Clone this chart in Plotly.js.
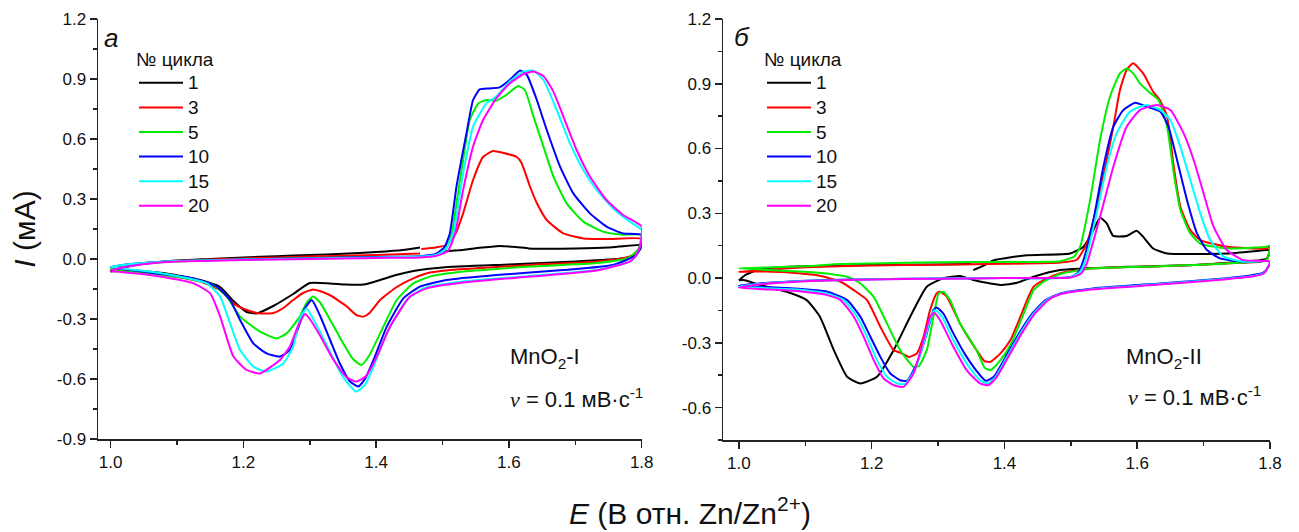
<!DOCTYPE html>
<html><head><meta charset="utf-8">
<script src="https://cdn.plot.ly/plotly-3.0.1.min.js"></script>
<style>html,body{margin:0;padding:0;background:#fff}#c{width:1299px;height:532px}</style>
</head><body><div id="c"></div>
<script>
// ---- data: [E (V vs Zn/Zn2+), I (mA)]; each loop = anodic sweep then cathodic sweep
const cycles = ['1','3','5','10','15','20'];
const colors = ['#000000','#ff0000','#00ee00','#0000ff','#00ffff','#ff00ff'];

// Panel а : MnO2-I
const A1 = [[1.0,-0.062],[1.03,-0.035],[1.06,-0.02],[1.1,-0.008],[1.15,0.0],[1.2,0.008],[1.25,0.014],[1.3,0.02],[1.35,0.026],[1.4,0.035],[1.44,0.045],[1.466,0.058],[null,null],
 [1.496,0.037],[1.53,0.045],[1.56,0.057],[1.586,0.065],[1.61,0.06],[1.63,0.053],[1.66,0.051],[1.7,0.052],[1.75,0.057],[1.8,0.07],
 [1.8,0.06],[1.79,0.02],[1.77,0.003],[1.7,-0.012],[1.6,-0.027],[1.5,-0.042],[1.456,-0.06],[1.43,-0.08],[1.406,-0.105],[1.381,-0.128],[1.355,-0.128],[1.33,-0.122],[1.3,-0.12],[1.275,-0.175],[1.245,-0.235],[1.22,-0.272],[1.205,-0.265],[1.185,-0.21],[1.165,-0.14],[1.135,-0.105],[1.084,-0.072],[1.034,-0.058],[1.0,-0.063]];
const A3 = [[1.0,-0.055],[1.03,-0.03],[1.06,-0.018],[1.1,-0.01],[1.2,0.003],[1.3,0.012],[1.4,0.02],[1.466,0.027],[null,null],
 [1.468,0.05],[1.49,0.058],[1.506,0.07],[1.52,0.13],[1.531,0.228],[1.546,0.395],[1.561,0.51],[1.576,0.54],[1.592,0.53],[1.612,0.51],[1.619,0.48],[1.632,0.36],[1.642,0.28],[1.657,0.195],[1.682,0.128],[1.712,0.103],[1.75,0.1],[1.8,0.1],
 [1.795,0.04],[1.78,0.01],[1.732,-0.013],[1.632,-0.03],[1.531,-0.05],[1.481,-0.068],[1.456,-0.097],[1.431,-0.14],[1.406,-0.205],[1.39,-0.27],[1.381,-0.288],[1.37,-0.28],[1.355,-0.235],[1.33,-0.18],[1.315,-0.16],[1.305,-0.152],[1.29,-0.17],[1.275,-0.205],[1.26,-0.245],[1.245,-0.27],[1.225,-0.272],[1.205,-0.255],[1.185,-0.222],[1.165,-0.155],[1.135,-0.113],[1.084,-0.08],[1.04,-0.065],[1.0,-0.055]];
const A5 = [[1.0,-0.052],[1.03,-0.03],[1.06,-0.02],[1.1,-0.012],[1.2,-0.002],[1.3,0.005],[1.4,0.01],[1.466,0.012],[1.49,0.02],[1.505,0.05],[1.514,0.128],[1.522,0.3],[1.531,0.495],[1.541,0.695],[1.554,0.778],[1.566,0.795],[1.581,0.792],[1.596,0.82],[1.614,0.865],[1.624,0.845],[1.637,0.712],[1.652,0.562],[1.667,0.412],[1.687,0.278],[1.712,0.187],[1.742,0.137],[1.77,0.122],[1.8,0.12],
 [1.795,0.05],[1.78,0.005],[1.732,-0.02],[1.632,-0.038],[1.531,-0.063],[1.481,-0.088],[1.456,-0.122],[1.431,-0.205],[1.406,-0.372],[1.39,-0.48],[1.378,-0.53],[1.365,-0.5],[1.35,-0.42],[1.33,-0.3],[1.315,-0.215],[1.305,-0.188],[1.295,-0.22],[1.285,-0.288],[1.265,-0.372],[1.25,-0.397],[1.225,-0.363],[1.195,-0.288],[1.175,-0.188],[1.155,-0.13],[1.115,-0.097],[1.059,-0.072],[1.0,-0.052]];
const A10 = [[1.0,-0.04],[1.03,-0.025],[1.06,-0.017],[1.1,-0.01],[1.2,-0.002],[1.3,0.004],[1.4,0.01],[1.466,0.014],[1.49,0.025],[1.503,0.06],[1.511,0.128],[1.521,0.362],[1.536,0.628],[1.546,0.795],[1.556,0.848],[1.571,0.853],[1.586,0.858],[1.601,0.895],[1.617,0.942],[1.627,0.92],[1.642,0.795],[1.657,0.645],[1.677,0.462],[1.697,0.328],[1.722,0.228],[1.747,0.162],[1.772,0.128],[1.8,0.12],
 [1.797,0.05],[1.792,0.02],[1.757,-0.03],[1.682,-0.055],[1.581,-0.08],[1.506,-0.105],[1.466,-0.138],[1.441,-0.197],[1.416,-0.338],[1.396,-0.505],[1.383,-0.6],[1.373,-0.638],[1.36,-0.61],[1.345,-0.52],[1.33,-0.4],[1.315,-0.28],[1.303,-0.205],[1.292,-0.25],[1.285,-0.322],[1.27,-0.455],[1.255,-0.488],[1.235,-0.472],[1.215,-0.422],[1.195,-0.305],[1.18,-0.205],[1.16,-0.138],[1.125,-0.097],[1.059,-0.068],[1.0,-0.04]];
const A15 = [[1.0,-0.04],[1.03,-0.025],[1.06,-0.017],[1.1,-0.01],[1.2,-0.003],[1.3,0.003],[1.4,0.008],[1.466,0.012],[1.49,0.02],[1.505,0.05],[1.516,0.128],[1.531,0.428],[1.546,0.662],[1.566,0.778],[1.581,0.812],[1.601,0.887],[1.622,0.937],[1.637,0.942],[1.652,0.895],[1.672,0.745],[1.692,0.578],[1.712,0.445],[1.732,0.345],[1.757,0.253],[1.782,0.187],[1.8,0.145],
 [1.797,0.06],[1.79,0.01],[1.782,-0.013],[1.732,-0.055],[1.632,-0.085],[1.531,-0.113],[1.471,-0.147],[1.446,-0.205],[1.416,-0.372],[1.396,-0.538],[1.383,-0.63],[1.37,-0.663],[1.35,-0.59],[1.33,-0.46],[1.31,-0.33],[1.295,-0.247],[1.285,-0.3],[1.275,-0.438],[1.26,-0.522],[1.235,-0.563],[1.215,-0.538],[1.195,-0.455],[1.18,-0.322],[1.165,-0.188],[1.145,-0.122],[1.11,-0.092],[1.059,-0.063],[1.0,-0.04]];
const A20 = [[1.0,-0.058],[1.03,-0.035],[1.06,-0.022],[1.1,-0.013],[1.2,-0.005],[1.3,0.0],[1.4,0.005],[1.466,0.008],[1.49,0.015],[1.508,0.04],[1.519,0.128],[1.531,0.345],[1.546,0.562],[1.561,0.695],[1.581,0.803],[1.601,0.878],[1.622,0.925],[1.637,0.937],[1.652,0.915],[1.667,0.837],[1.682,0.712],[1.702,0.545],[1.722,0.412],[1.747,0.295],[1.772,0.22],[1.8,0.162],
 [1.797,0.06],[1.79,0.01],[1.782,-0.013],[1.732,-0.058],[1.632,-0.088],[1.531,-0.118],[1.476,-0.147],[1.451,-0.188],[1.421,-0.338],[1.401,-0.488],[1.385,-0.585],[1.37,-0.613],[1.355,-0.59],[1.335,-0.5],[1.315,-0.38],[1.3,-0.3],[1.293,-0.275],[1.283,-0.33],[1.27,-0.438],[1.255,-0.505],[1.225,-0.572],[1.205,-0.555],[1.185,-0.488],[1.165,-0.288],[1.15,-0.172],[1.125,-0.122],[1.059,-0.08],[1.0,-0.058]];

// Panel б : MnO2-II
const B1 = [[1.0,-0.01],[1.01,0.015],[1.03,0.04],[1.06,0.05],[1.1,0.055],[1.2,0.06],[1.3,0.063],[1.35,0.065],[null,null],
 [1.353,0.037],[1.37,0.06],[1.384,0.083],[1.434,0.106],[1.499,0.114],[1.519,0.145],[1.534,0.222],[1.544,0.28],[1.554,0.253],[1.564,0.195],[1.584,0.195],[1.599,0.219],[1.609,0.191],[1.624,0.137],[1.645,0.114],[1.735,0.114],[1.795,0.13],[1.8,0.13],
 [1.795,0.09],[1.785,0.083],[1.685,0.06],[1.584,0.052],[1.484,0.037],[1.444,0.006],[1.419,-0.022],[1.394,-0.032],[1.353,-0.009],[1.333,0.01],[1.308,-0.001],[1.283,-0.04],[1.258,-0.179],[1.233,-0.334],[1.208,-0.457],[1.183,-0.488],[1.163,-0.457],[1.143,-0.334],[1.122,-0.179],[1.102,-0.102],[1.072,-0.063],[1.032,-0.032],[1.007,-0.009],[1.0,-0.01]];
const B3 = [[1.0,0.03],[1.05,0.04],[1.1,0.05],[1.2,0.058],[1.3,0.062],[1.4,0.066],[1.484,0.072],[1.509,0.085],[1.524,0.16],[1.539,0.33],[1.554,0.547],[1.564,0.701],[1.574,0.871],[1.584,0.964],[1.594,0.995],[1.609,0.948],[1.624,0.863],[1.634,0.825],[1.645,0.748],[1.655,0.516],[1.665,0.33],[1.68,0.222],[1.695,0.176],[1.735,0.145],[1.795,0.137],[1.8,0.145],
 [1.795,0.083],[1.735,0.068],[1.634,0.055],[1.534,0.045],[1.484,0.022],[1.459,-0.009],[1.444,-0.04],[1.434,-0.102],[1.424,-0.179],[1.409,-0.287],[1.394,-0.349],[1.379,-0.388],[1.37,-0.385],[1.358,-0.334],[1.333,-0.21],[1.313,-0.086],[1.303,-0.063],[1.298,-0.07],[1.288,-0.148],[1.278,-0.272],[1.268,-0.349],[1.256,-0.365],[1.243,-0.345],[1.233,-0.334],[1.213,-0.226],[1.193,-0.102],[1.173,-0.056],[1.153,-0.017],[1.12,0.012],[1.08,0.025],[1.04,0.03],[1.0,0.03]];
const B5 = [[1.0,0.045],[1.05,0.05],[1.1,0.055],[1.153,0.065],[1.2,0.068],[1.3,0.073],[1.4,0.075],[1.484,0.078],[1.505,0.1],[1.514,0.145],[1.529,0.361],[1.544,0.64],[1.559,0.84],[1.574,0.948],[1.584,0.971],[1.594,0.948],[1.604,0.902],[1.62,0.856],[1.632,0.825],[1.645,0.701],[1.655,0.485],[1.665,0.315],[1.68,0.207],[1.695,0.16],[1.735,0.137],[1.795,0.145],[1.8,0.15],
 [1.795,0.085],[1.735,0.068],[1.634,0.055],[1.534,0.045],[1.484,0.019],[1.459,-0.017],[1.444,-0.056],[1.434,-0.125],[1.424,-0.202],[1.409,-0.31],[1.394,-0.38],[1.379,-0.426],[1.37,-0.415],[1.358,-0.334],[1.333,-0.21],[1.318,-0.102],[1.308,-0.063],[1.301,-0.071],[1.293,-0.179],[1.283,-0.334],[1.271,-0.408],[1.263,-0.411],[1.243,-0.334],[1.223,-0.21],[1.203,-0.087],[1.183,-0.025],[1.163,0.006],[1.12,0.025],[1.06,0.035],[1.0,0.045]];
const B10 = [[1.0,-0.035],[1.03,-0.025],[1.1,-0.012],[1.2,-0.005],[1.3,-0.002],[1.4,0.0],[1.5,0.005],[1.512,0.03],[1.519,0.083],[1.534,0.269],[1.549,0.516],[1.564,0.701],[1.579,0.778],[1.597,0.812],[1.614,0.794],[1.635,0.771],[1.647,0.701],[1.66,0.547],[1.675,0.361],[1.69,0.207],[1.705,0.13],[1.725,0.091],[1.76,0.076],[1.8,0.076],
 [1.797,0.05],[1.79,0.025],[1.775,0.014],[1.735,-0.001],[1.634,-0.025],[1.534,-0.048],[1.484,-0.071],[1.462,-0.102],[1.442,-0.164],[1.422,-0.256],[1.402,-0.364],[1.384,-0.457],[1.372,-0.476],[1.363,-0.449],[1.343,-0.365],[1.323,-0.256],[1.308,-0.164],[1.298,-0.136],[1.293,-0.148],[1.283,-0.256],[1.268,-0.396],[1.253,-0.476],[1.243,-0.473],[1.228,-0.442],[1.213,-0.365],[1.198,-0.272],[1.183,-0.179],[1.163,-0.102],[1.133,-0.063],[1.082,-0.048],[1.0,-0.035]];
const B15 = [[1.0,-0.04],[1.03,-0.028],[1.1,-0.014],[1.2,-0.006],[1.3,-0.002],[1.4,0.0],[1.5,0.004],[1.514,0.03],[1.522,0.083],[1.539,0.3],[1.554,0.516],[1.569,0.67],[1.589,0.771],[1.614,0.802],[1.635,0.778],[1.65,0.732],[1.665,0.608],[1.68,0.454],[1.695,0.3],[1.71,0.176],[1.73,0.099],[1.76,0.076],[1.8,0.076],
 [1.797,0.05],[1.79,0.022],[1.775,0.01],[1.735,-0.003],[1.634,-0.028],[1.534,-0.05],[1.484,-0.073],[1.464,-0.102],[1.444,-0.164],[1.424,-0.256],[1.404,-0.364],[1.386,-0.46],[1.375,-0.488],[1.363,-0.473],[1.343,-0.396],[1.323,-0.287],[1.306,-0.179],[1.296,-0.148],[1.291,-0.164],[1.281,-0.272],[1.265,-0.426],[1.25,-0.491],[1.238,-0.488],[1.223,-0.457],[1.208,-0.38],[1.193,-0.272],[1.178,-0.179],[1.158,-0.102],[1.133,-0.071],[1.082,-0.052],[1.0,-0.04]];
const B20 = [[1.0,-0.045],[1.03,-0.03],[1.1,-0.015],[1.2,-0.007],[1.3,-0.003],[1.4,0.0],[1.5,0.003],[1.515,0.02],[1.524,0.068],[1.544,0.284],[1.564,0.516],[1.584,0.701],[1.604,0.778],[1.63,0.802],[1.65,0.778],[1.67,0.67],[1.685,0.547],[1.7,0.392],[1.715,0.238],[1.735,0.13],[1.76,0.083],[1.8,0.076],
 [1.797,0.05],[1.79,0.02],[1.775,0.008],[1.735,-0.005],[1.634,-0.03],[1.534,-0.052],[1.484,-0.075],[1.466,-0.102],[1.446,-0.164],[1.426,-0.256],[1.406,-0.364],[1.388,-0.46],[1.376,-0.496],[1.363,-0.488],[1.343,-0.426],[1.323,-0.318],[1.303,-0.195],[1.294,-0.161],[1.288,-0.179],[1.278,-0.287],[1.263,-0.442],[1.248,-0.504],[1.233,-0.496],[1.218,-0.465],[1.203,-0.38],[1.188,-0.272],[1.173,-0.179],[1.153,-0.102],[1.133,-0.079],[1.082,-0.059],[1.0,-0.045]];

const xTickVals = [1.0,1.2,1.4,1.6,1.8];
const xTickText = ['1.0','1.2','1.4','1.6','1.8'];
const yTickValsA = [-0.9,-0.6,-0.3,0,0.3,0.6,0.9,1.2];
const yTickTextA = ['-0.9','-0.6','-0.3','0.0','0.3','0.6','0.9','1.2'];
const yTickValsB = [-0.6,-0.3,0,0.3,0.6,0.9,1.2];
const yTickTextB = ['-0.6','-0.3','0.0','0.3','0.6','0.9','1.2'];

// ---- build
const W = 1299, H = 532;
const FONT = 'Arial, "Liberation Sans", sans-serif';
const LEG_TXT = 19;
const setA = [A1,A3,A5,A10,A15,A20];
const setB = [B1,B3,B5,B10,B15,B20];
const traces = [];
function mk(set, xa, ya, leg) {
  set.forEach((d, i) => {
    traces.push({
      type: 'scatter', mode: 'lines',
      x: d.map(p => p[0]), y: d.map(p => p[1]),
      xaxis: xa, yaxis: ya, legend: leg,
      name: '<span style="font-size:' + LEG_TXT + 'px">' + cycles[i] + '</span>',
      line: {color: colors[i], width: 2, shape: 'spline', smoothing: 0.5},
      hoverinfo: 'skip'
    });
  });
}
mk(setA, 'x', 'y', 'legend');
mk(setB, 'x2', 'y2', 'legend2');

const px = v => v / W, py = v => 1 - v / H;
const axCommon = {
  showgrid: false, zeroline: false, showline: true, linecolor: '#222', linewidth: 1.5,
  ticks: 'outside', ticklen: 7, tickwidth: 1.5, tickcolor: '#222',
  tickfont: {family: FONT, size: 17, color: '#111'}, tickmode: 'array', mirror: false
};
const xMinor = {ticks: 'outside', ticklen: 4, tickwidth: 1.5, tickcolor: '#222', tickmode: 'linear', tick0: 1.0, dtick: 0.1};
const yMinor = {ticks: 'outside', ticklen: 4, tickwidth: 1.5, tickcolor: '#222', tickmode: 'linear', tick0: 0, dtick: 0.15};

const legendCommon = {
  bgcolor: 'rgba(0,0,0,0)', borderwidth: 0, xanchor: 'left', yanchor: 'top',
  font: {family: FONT, size: 16.6, color: '#111'}, itemwidth: 44,
  title: {text: '<span style="font-size:' + LEG_TXT + 'px">№ цикла</span>', side: 'top', font: {family: FONT, size: 16.6, color: '#111'}},
  tracegroupgap: 0
};

const layout = {
  width: W, height: H, margin: {l: 0, r: 0, t: 0, b: 0},
  paper_bgcolor: '#fff', plot_bgcolor: '#fff', showlegend: true,
  font: {family: FONT, color: '#111'},
  xaxis: Object.assign({}, axCommon, {domain: [px(98), px(641.7)], range: [0.981, 1.8], tickvals: xTickVals, ticktext: xTickText, minor: xMinor, anchor: 'y'}),
  yaxis: Object.assign({}, axCommon, {domain: [py(439), py(19)], range: [-0.9, 1.2], tickvals: yTickValsA, ticktext: yTickTextA, minor: yMinor, anchor: 'x',
    title: {text: '<i>I</i> (мА)', font: {family: FONT, size: 30, color: '#111'}, standoff: 12}}),
  xaxis2: Object.assign({}, axCommon, {domain: [px(723), px(1270)], range: [0.976, 1.8], tickvals: xTickVals, ticktext: xTickText, minor: xMinor, anchor: 'y2'}),
  yaxis2: Object.assign({}, axCommon, {domain: [py(440), py(19)], range: [-0.75, 1.2], tickvals: yTickValsB, ticktext: yTickTextB, minor: yMinor, anchor: 'x2'}),
  legend: Object.assign({}, legendCommon, {x: px(134), y: py(44)}),
  legend2: Object.assign({}, legendCommon, {x: px(762), y: py(44)}),
  annotations: [
    {xref: 'paper', yref: 'paper', x: px(111), y: py(38), text: '<i>а</i>', showarrow: false, font: {family: FONT, size: 26, color: '#111'}, xanchor: 'center', yanchor: 'middle'},
    {xref: 'paper', yref: 'paper', x: px(742), y: py(37), text: '<i>б</i>', showarrow: false, font: {family: FONT, size: 26, color: '#111'}, xanchor: 'center', yanchor: 'middle'},
    {xref: 'paper', yref: 'paper', x: px(508), y: py(358), text: 'MnO<sub>2</sub>-I', showarrow: false, font: {family: FONT, size: 22, color: '#111'}, xanchor: 'left', yanchor: 'middle'},
    {xref: 'paper', yref: 'paper', x: px(508), y: py(398), text: '<span style="font-family:\'Liberation Serif\',\'Times New Roman\',serif"><i>ν</i></span> = 0.1 мВ·с<sup>-1</sup>', showarrow: false, font: {family: FONT, size: 22, color: '#111'}, xanchor: 'left', yanchor: 'middle'},
    {xref: 'paper', yref: 'paper', x: px(1124), y: py(358), text: 'MnO<sub>2</sub>-II', showarrow: false, font: {family: FONT, size: 22, color: '#111'}, xanchor: 'left', yanchor: 'middle'},
    {xref: 'paper', yref: 'paper', x: px(1126), y: py(396), text: '<span style="font-family:\'Liberation Serif\',\'Times New Roman\',serif"><i>ν</i></span> = 0.1 мВ·с<sup>-1</sup>', showarrow: false, font: {family: FONT, size: 22, color: '#111'}, xanchor: 'left', yanchor: 'middle'},
    {xref: 'paper', yref: 'paper', x: px(690), y: py(511), text: '<i>E</i> (В отн. Zn/Zn<sup>2+</sup>)', showarrow: false, font: {family: FONT, size: 30, color: '#111'}, xanchor: 'center', yanchor: 'middle'}
  ]
};

Plotly.newPlot('c', traces, layout, {staticPlot: true, displayModeBar: false});
</script>
</body></html>
